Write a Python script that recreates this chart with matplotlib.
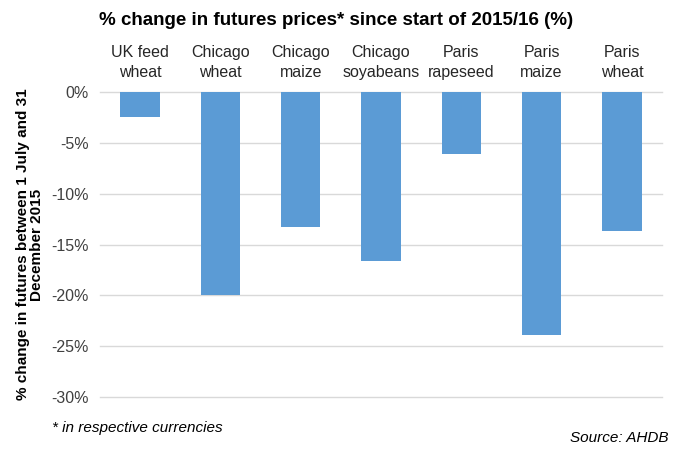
import matplotlib
matplotlib.use("Agg")
import matplotlib.pyplot as plt
from matplotlib.ticker import FuncFormatter

categories = ["UK feed\nwheat", "Chicago\nwheat", "Chicago\nmaize", "Chicago\nsoyabeans",
              "Paris\nrapeseed", "Paris\nmaize", "Paris\nwheat"]
changes = [-2.4, -20.0, -13.3, -16.6, -6.1, -23.9, -13.7]
yticks = [0, -5, -10, -15, -20, -25, -30]

plt.rcParams["font.family"] = ["Liberation Sans", "DejaVu Sans"]

fig = plt.figure(figsize=(6.73, 4.54), dpi=100)
ax = fig.add_axes([0.1486, 0.1256, 0.8351, 0.6711])

x = range(len(categories))
ax.bar(x, changes, width=0.49, color="#5B9BD5", zorder=3)

ax.set_ylim(-30, 0)
ax.set_xlim(-0.5, len(categories) - 0.5)
ax.set_yticks(yticks)
ax.yaxis.set_major_formatter(FuncFormatter(lambda v, p: f"{v:.0f}%"))
ax.grid(axis="y", color="#d9d9d9", linewidth=1, zorder=0)
for gl in ax.get_ygridlines():
    gl.set_clip_on(False)
ax.xaxis.tick_top()
ax.set_xticks(list(x))
ax.set_xticklabels(categories, fontsize=11.5, color="#262626", linespacing=1.4)
ax.tick_params(axis="both", length=0, labelsize=11.5, colors="#404040")
ax.tick_params(axis="x", pad=9, colors="#262626")
ax.tick_params(axis="y", pad=8)
for s in ax.spines.values():
    s.set_visible(False)

ax.set_ylabel("% change in futures between 1 July and 31\nDecember 2015",
              fontsize=11, fontweight="bold", labelpad=5, linespacing=1.0)

fig.text(0.5, 0.955, "% change in futures prices* since start of 2015/16 (%)",
         ha="center", va="center", fontsize=13.5, fontweight="bold")
fig.text(0.077, 0.057, "* in respective currencies", ha="left", va="center",
         fontsize=11, style="italic")
fig.text(0.993, 0.036, "Source: AHDB", ha="right", va="center",
         fontsize=11, style="italic")

fig.savefig("out.png", dpi=100)
